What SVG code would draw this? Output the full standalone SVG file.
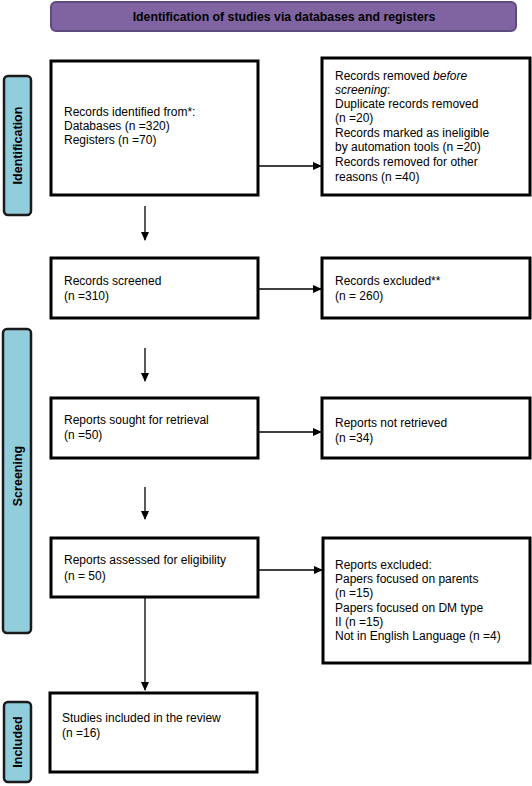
<svg xmlns="http://www.w3.org/2000/svg" width="532" height="786" viewBox="0 0 532 786">
<style>
.box{fill:#fff;stroke:#000;stroke-width:3}
.side{fill:#92cddc;stroke:#1a1a1a;stroke-width:2.5}
.t{font-family:"Liberation Sans",Arial,sans-serif;font-size:12px;fill:#000}
.s{font-family:"Liberation Sans",Arial,sans-serif;font-size:12.5px;font-weight:bold;fill:#000}
.h{font-family:"Liberation Sans",Arial,sans-serif;font-size:12.3px;font-weight:bold;fill:#000}
.c{stroke:#000;stroke-width:1.3;fill:none}
</style>
<defs>
<marker id="ah" markerWidth="9" markerHeight="9" refX="8" refY="4.5" orient="auto" markerUnits="userSpaceOnUse">
<path d="M0,0.5 L9,4.5 L0,8.5 Z" fill="#000"/>
</marker>
</defs>
<g id="header">
<rect x="51" y="2" width="465" height="29" rx="5" fill="#8064a2" stroke="#5d4a7e" stroke-width="2"/>
<text class="h" x="284" y="21" text-anchor="middle">Identification of studies via databases and registers</text>
</g>
<g id="lbl-identification">
<rect class="side" x="4" y="76" width="27" height="139" rx="4"/>
<text class="s" transform="translate(22,145.5) rotate(-90)" text-anchor="middle">Identification</text>
</g>
<g id="lbl-screening">
<rect class="side" x="3" y="329" width="28" height="304" rx="4"/>
<text class="s" transform="translate(22,476) rotate(-90)" text-anchor="middle">Screening</text>
</g>
<g id="lbl-included">
<rect class="side" x="4" y="702" width="27" height="80" rx="4"/>
<text class="s" transform="translate(22,742) rotate(-90)" text-anchor="middle">Included</text>
</g>
<g id="n-identified">
<rect class="box" x="51" y="61" width="207" height="134"/>
<text class="t" x="64" y="116">Records identified from*:</text>
<text class="t" x="64" y="130">Databases (n =320)</text>
<text class="t" x="64" y="144">Registers (n =70)</text>
</g>
<g id="n-removed">
<rect class="box" x="322" y="58" width="208" height="137"/>
<text class="t" x="335" y="80">Records removed <tspan font-style="italic">before</tspan></text>
<text class="t" x="335" y="94"><tspan font-style="italic">screening</tspan>:</text>
<text class="t" x="335" y="108">Duplicate records removed</text>
<text class="t" x="335" y="122">(n =20)</text>
<text class="t" x="335" y="137">Records marked as ineligible</text>
<text class="t" x="335" y="151">by automation tools (n =20)</text>
<text class="t" x="335" y="166">Records removed for other</text>
<text class="t" x="335" y="181">reasons (n =40)</text>
</g>
<g id="n-screened">
<rect class="box" x="51" y="258" width="207" height="60"/>
<text class="t" x="64" y="285">Records screened</text>
<text class="t" x="64" y="300">(n =310)</text>
</g>
<g id="n-excluded">
<rect class="box" x="322" y="258" width="208" height="60"/>
<text class="t" x="335" y="285">Records excluded**</text>
<text class="t" x="335" y="300">(n = 260)</text>
</g>
<g id="n-sought">
<rect class="box" x="51" y="398" width="207" height="60"/>
<text class="t" x="64" y="424">Reports sought for retrieval</text>
<text class="t" x="64" y="439">(n =50)</text>
</g>
<g id="n-notretrieved">
<rect class="box" x="322" y="398" width="208" height="60"/>
<text class="t" x="335" y="427">Reports not retrieved</text>
<text class="t" x="335" y="442">(n =34)</text>
</g>
<g id="n-assessed">
<rect class="box" x="51" y="538" width="207" height="59"/>
<text class="t" x="64" y="564">Reports assessed for eligibility</text>
<text class="t" x="64" y="580">(n = 50)</text>
</g>
<g id="n-reportsexcluded">
<rect class="box" x="323" y="538" width="207" height="125"/>
<text class="t" x="335" y="569">Reports excluded:</text>
<text class="t" x="335" y="583">Papers focused on parents</text>
<text class="t" x="335" y="597">(n =15)</text>
<text class="t" x="335" y="612">Papers focused on DM type</text>
<text class="t" x="335" y="626">II (n =15)</text>
<text class="t" x="335" y="640">Not in English Language (n =4)</text>
</g>
<g id="n-included">
<rect class="box" x="50" y="693" width="207" height="79"/>
<text class="t" x="62" y="722">Studies included in the review</text>
<text class="t" x="62" y="737">(n =16)</text>
</g>
<g id="connectors">
<line class="c" x1="258" y1="166" x2="321" y2="166" marker-end="url(#ah)"/>
<line class="c" x1="145" y1="206" x2="145" y2="240" marker-end="url(#ah)"/>
<line class="c" x1="258" y1="289" x2="321" y2="289" marker-end="url(#ah)"/>
<line class="c" x1="145" y1="348" x2="145" y2="381" marker-end="url(#ah)"/>
<line class="c" x1="258" y1="432" x2="321" y2="432" marker-end="url(#ah)"/>
<line class="c" x1="145" y1="487" x2="145" y2="519" marker-end="url(#ah)"/>
<line class="c" x1="258" y1="570" x2="322" y2="570" marker-end="url(#ah)"/>
<line class="c" x1="145" y1="597" x2="145" y2="690" marker-end="url(#ah)"/>
</g>
</svg>
